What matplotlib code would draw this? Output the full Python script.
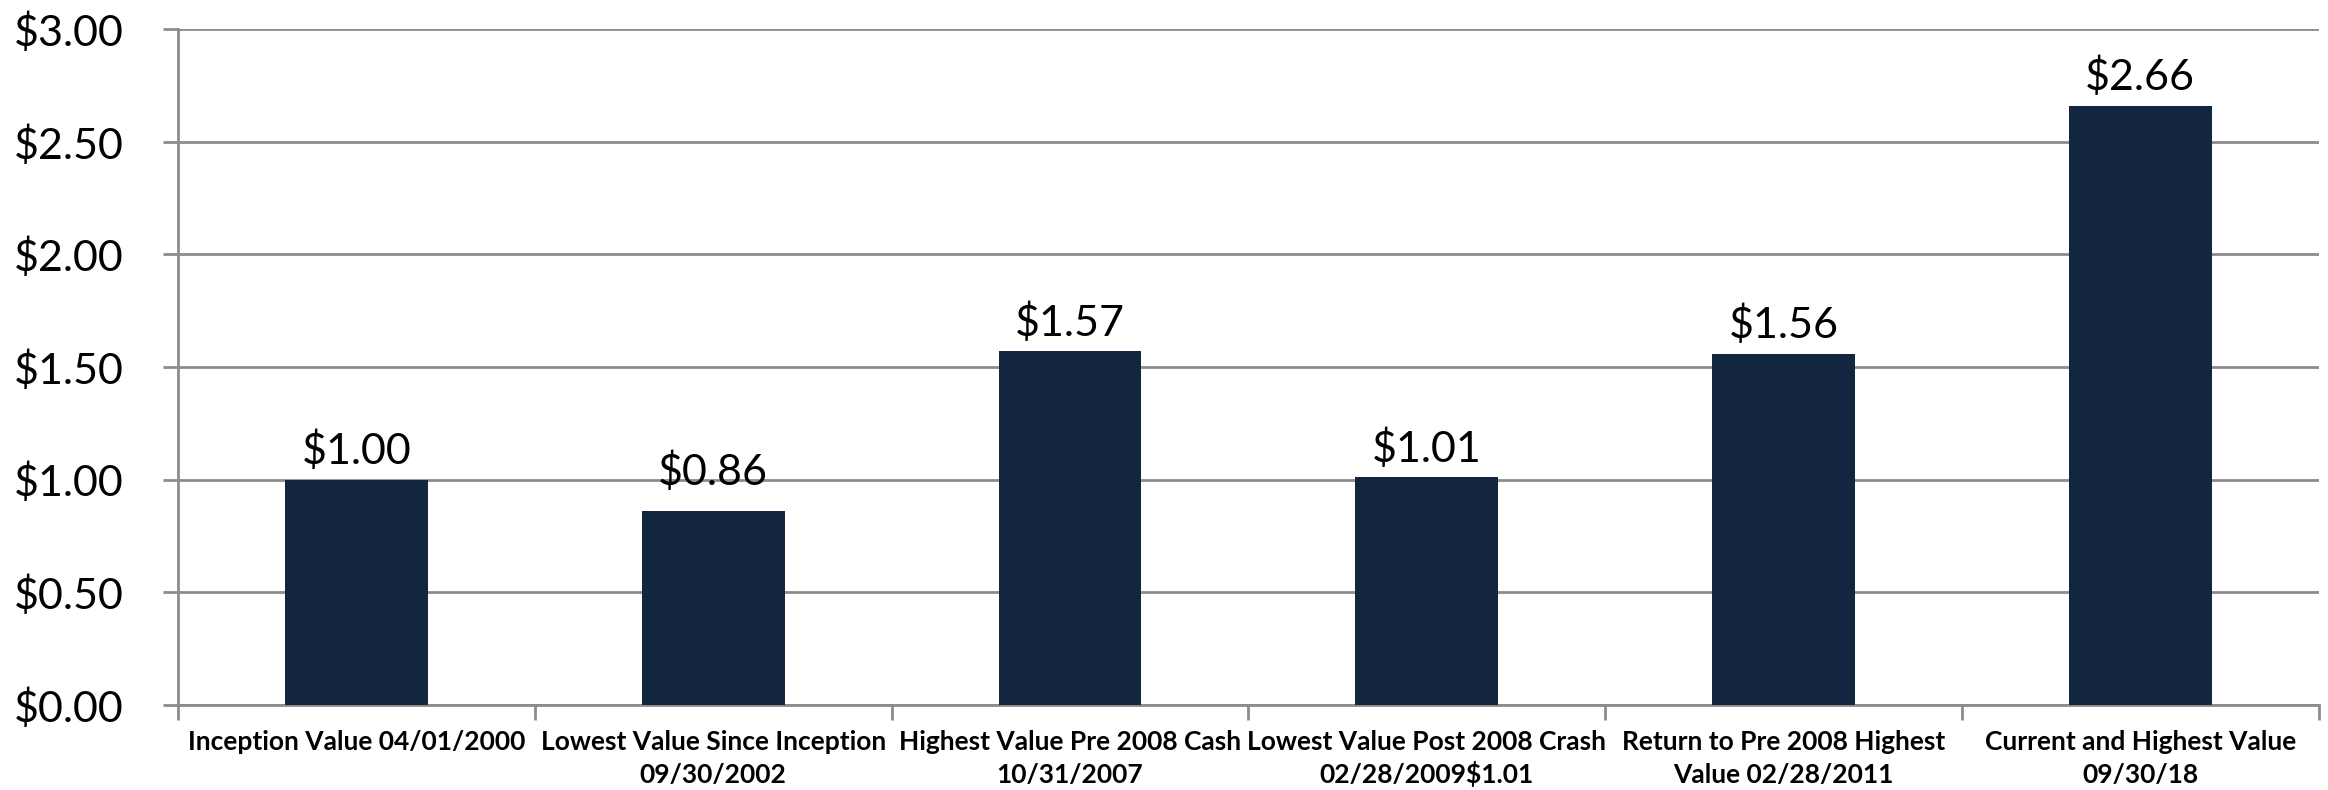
import matplotlib.pyplot as plt
import numpy as np

categories = [
    'Inception Value 04/01/2000',
    'Lowest Value Since Inception\n09/30/2002',
    'Highest Value Pre 2008 Cash\n10/31/2007',
    'Lowest Value Post 2008 Crash\n02/28/2009$1.01',
    'Return to Pre 2008 Highest\nValue 02/28/2011',
    'Current and Highest Value\n09/30/18',
]
values = [1.00, 0.86, 1.57, 1.01, 1.56, 2.66]
value_labels = ['$1.00', '$0.86', '$1.57', '$1.01', '$1.56', '$2.66']
y_ticks = [0.0, 0.5, 1.0, 1.5, 2.0, 2.5, 3.0]

bar_color = '#13263f'
grid_color = '#8c8c8c'
num_font = ['Lato', 'DejaVu Sans']

fig = plt.figure(figsize=(23.28, 7.9), dpi=100)
ax = fig.add_axes([0.0765, 0.1076, 0.9195, 0.8554])

x = np.arange(len(values))
ax.bar(x, values, width=0.4, color=bar_color, zorder=3)

# value labels above bars ($0.86 sits a bit higher in the original)
offsets = [6, 14, 6, 6, 6, 6]
for xi, v, lab, off in zip(x, values, value_labels, offsets):
    ax.annotate(lab, (xi, v), xytext=(0, off), textcoords='offset points',
                ha='center', va='bottom', fontsize=31, family=num_font)

ax.set_xlim(-0.5, len(values) - 0.5)
ax.set_ylim(0, 3.0)
ax.set_yticks(y_ticks)
ax.set_yticklabels(['$%.2f' % t for t in y_ticks], fontsize=31, family=num_font)

# category labels, one line at a time so every line shares the same baseline
ax.set_xticks(x)
ax.set_xticklabels([])
ax.tick_params(axis='x', length=0)
for xi, cat in zip(x, categories):
    for k, line in enumerate(cat.split('\n')):
        ax.annotate(line, (xi, 0), xycoords=('data', 'axes fraction'),
                    xytext=(0, -32.5 - 23.8 * k), textcoords='offset points',
                    ha='center', va='baseline', fontsize=19, fontweight='bold',
                    family=num_font, annotation_clip=False)

# category boundary ticks
ax.set_xticks(np.arange(len(values) + 1) - 0.5, minor=True)
ax.tick_params(axis='x', which='minor', length=11, width=2, color=grid_color)
ax.tick_params(axis='y', length=11, width=2, color=grid_color, pad=28)

ax.grid(axis='y', color=grid_color, linewidth=2, zorder=0)
for s in ['top', 'right']:
    ax.spines[s].set_visible(False)
for s in ['left', 'bottom']:
    ax.spines[s].set_color(grid_color)
    ax.spines[s].set_linewidth(2)

fig.savefig('out.png', dpi=100)
